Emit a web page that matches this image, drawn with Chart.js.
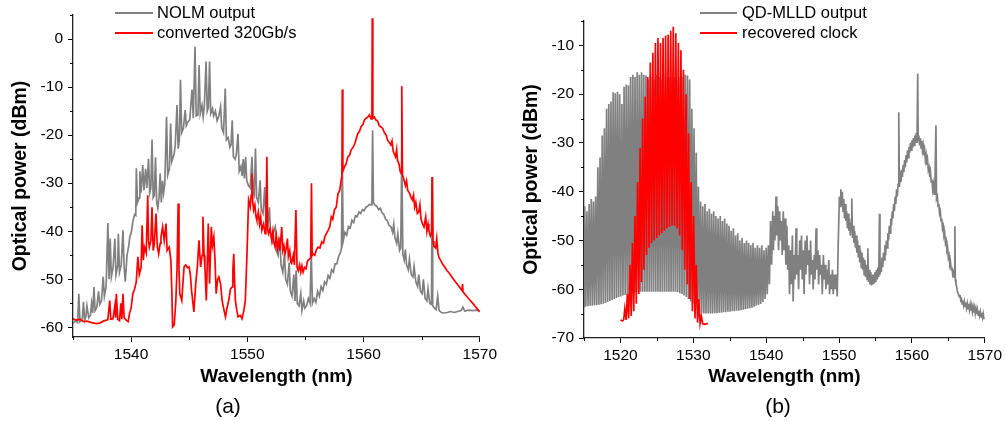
<!DOCTYPE html>
<html><head><meta charset="utf-8">
<script src="https://cdn.jsdelivr.net/npm/chart.js@4.4.1/dist/chart.umd.min.js"></script>
<style>
html,body{margin:0;padding:0;background:#fff;}
#wrap{position:relative;width:1005px;height:421px;overflow:hidden;background:#fff;}
.pane{position:absolute;top:0;width:500px;height:421px;}
#pa{left:0;} #pb{left:505px;}
.cap{position:absolute;font:21px "Liberation Sans",Arial,sans-serif;color:#000;transform:translate(-50%,-50%);white-space:nowrap;}
</style></head>
<body><div id="wrap">
<div class="pane" id="pa"><canvas id="ca" width="500" height="421"></canvas></div>
<div class="pane" id="pb"><canvas id="cb" width="500" height="421"></canvas></div>
<div class="cap" style="left:228px;top:406px;">(a)</div>
<div class="cap" style="left:778px;top:406px;">(b)</div>
</div>
<script>
// ---------- DATA (wavelength nm, optical power dBm) ----------
const panelALabels = ['NOLM output', 'converted 320Gb/s'];
const panelBLabels = ['QD-MLLD output', 'recovered clock'];

const nolmOutput = [
[1535.0,-59.2],[1535.2,-58.6],[1535.4,-59],[1535.5,-53],[1535.6,-58.8],[1535.8,-58.2],[1535.9,-54.7],[1536.0,-58.5],[1536.1,-57.8],[1536.2,-55.5],[1536.35,-58],[1536.5,-57.5],[1536.6,-55],[1536.7,-57],[1536.8,-51.6],[1536.9,-56.5],[1537.05,-55.8],[1537.2,-52.5],[1537.3,-55.2],[1537.45,-54.5],[1537.6,-49.5],[1537.7,-53.5],[1537.85,-51.5],[1538.0,-38.3],[1538.1,-50],[1538.2,-41.5],[1538.3,-49.5],[1538.45,-47.5],[1538.6,-41.5],[1538.7,-49],[1538.85,-47],[1538.9,-40.5],[1539.0,-48.5],[1539.15,-47],[1539.3,-39.8],[1539.4,-47.5],[1539.5,-50.5],[1539.65,-45],[1539.8,-43],[1539.9,-41],[1540.0,-40.5],[1540.15,-38],[1540.3,-36.5],[1540.4,-36.7],[1540.45,-26.9],[1540.55,-34],[1540.7,-33],[1540.75,-27.5],[1540.85,-32],[1541.0,-26.2],[1541.1,-31.5],[1541.25,-27],[1541.35,-31],[1541.5,-24.9],[1541.6,-32],[1541.7,-31],[1541.8,-20.9],[1541.9,-33],[1542.0,-32.5],[1542.1,-24.6],[1542.2,-34],[1542.3,-35.2],[1542.4,-33],[1542.5,-28],[1542.6,-34],[1542.7,-29.5],[1542.8,-32],[1542.9,-30],[1543.05,-16.2],[1543.15,-28.3],[1543.3,-27],[1543.4,-17.6],[1543.5,-25.5],[1543.7,-24],[1543.8,-22],[1543.95,-13.75],[1544.05,-22.8],[1544.15,-21],[1544.25,-8.5],[1544.35,-19.5],[1544.5,-18.6],[1544.65,-14.8],[1544.75,-18],[1544.9,-17.2],[1545.05,-16.8],[1545.24,-10.5],[1545.35,-16.5],[1545.5,-1.6],[1545.6,-16],[1545.75,-15.8],[1545.85,-5.4],[1545.95,-15.5],[1546.1,-13.8],[1546.2,-16.2],[1546.3,-14],[1546.45,-4.7],[1546.55,-15],[1546.65,-14.2],[1546.75,-4.7],[1546.85,-15.5],[1547.0,-14.5],[1547.1,-16],[1547.25,-15],[1547.4,-17],[1547.55,-16],[1547.7,-14.1],[1547.8,-18.5],[1547.95,-19.5],[1548.1,-10.3],[1548.2,-21],[1548.35,-20.5],[1548.5,-22.5],[1548.6,-22],[1548.7,-16.9],[1548.8,-24.5],[1548.95,-25],[1549.05,-24],[1549.2,-19.7],[1549.3,-27.5],[1549.45,-26.5],[1549.55,-28.5],[1549.65,-25],[1549.75,-29],[1549.85,-24.5],[1549.95,-29.5],[1550.1,-30.5],[1550.25,-31],[1550.4,-24.5],[1550.5,-31.8],[1550.6,-32.5],[1550.7,-22.8],[1550.8,-33],[1550.95,-34],[1551.1,-29.4],[1551.2,-35.5],[1551.35,-36.3],[1551.5,-30.8],[1551.6,-38],[1551.75,-39],[1551.9,-35],[1552.0,-40.5],[1552.15,-42],[1552.25,-40],[1552.4,-39.1],[1552.5,-44],[1552.65,-45],[1552.8,-41.2],[1552.9,-47],[1553.05,-48.5],[1553.2,-44.7],[1553.3,-50],[1553.45,-51],[1553.6,-46.5],[1553.7,-52.5],[1553.85,-53.5],[1554.0,-49],[1554.1,-54.5],[1554.2,-48.1],[1554.3,-55],[1554.45,-55.5],[1554.6,-53],[1554.7,-56.5],[1554.85,-54.5],[1554.95,-56],[1555.1,-55.5],[1555.25,-54],[1555.4,-55],[1555.5,-44],[1555.6,-55],[1555.75,-54],[1555.9,-54.8],[1556.05,-52.5],[1556.2,-53.5],[1556.35,-51.5],[1556.5,-52.3],[1556.65,-50.5],[1556.8,-51],[1556.95,-49.2],[1557.1,-49.8],[1557.25,-48],[1557.4,-48.5],[1557.55,-46.8],[1557.7,-46.8],[1557.85,-45.3],[1558.0,-44.5],[1558.1,-43.5],[1558.17,-25.2],[1558.25,-42],[1558.4,-40.2],[1558.55,-40.8],[1558.7,-39],[1558.85,-39.3],[1559.0,-37.7],[1559.15,-38.2],[1559.3,-36.8],[1559.45,-37],[1559.6,-36],[1559.75,-36.3],[1559.9,-35.5],[1560.05,-35.7],[1560.2,-35],[1560.35,-34.8],[1560.5,-34.4],[1560.65,-34.5],[1560.72,-33.8],[1560.78,-19],[1560.85,-34],[1561.0,-34.6],[1561.15,-34.8],[1561.3,-35.5],[1561.45,-35.2],[1561.6,-36.2],[1561.75,-36.5],[1561.9,-37.5],[1562.05,-37.8],[1562.2,-38.8],[1562.35,-39],[1562.5,-40.2],[1562.6,-38.5],[1562.7,-41.3],[1562.85,-42.5],[1562.95,-40.5],[1563.1,-44],[1563.2,-43.5],[1563.29,-23.5],[1563.38,-44.7],[1563.5,-46],[1563.6,-43.8],[1563.7,-47],[1563.85,-48],[1563.95,-45.8],[1564.1,-49],[1564.25,-49.5],[1564.35,-47.3],[1564.5,-50.5],[1564.65,-51.5],[1564.75,-49],[1564.9,-52.5],[1565.05,-53],[1565.15,-50],[1565.3,-54],[1565.45,-54.5],[1565.55,-52],[1565.7,-55],[1565.85,-55.2],[1565.9,-28.7],[1565.95,-55.5],[1566.1,-56],[1566.25,-56.3],[1566.38,-53.5],[1566.5,-56.5],[1566.7,-56.9],[1566.9,-57],[1567.2,-56.9],[1567.5,-56.7],[1567.8,-56.9],[1568.1,-56.7],[1568.4,-56.5],[1568.55,-55.8],[1568.7,-56.6],[1569.0,-56.4],[1569.4,-56.5],[1569.7,-56.4],[1570.0,-56.6]
];

const converted320 = [
[1535.0,-58.2],[1535.3,-58.5],[1535.6,-58.3],[1535.9,-58.8],[1536.2,-58.7],[1536.6,-59],[1537.0,-59.2],[1537.3,-59.1],[1537.6,-58.7],[1537.87,-58.5],[1538.0,-58.4],[1538.16,-54.4],[1538.25,-58.3],[1538.44,-58.2],[1538.6,-55.5],[1538.67,-58],[1538.73,-53],[1538.85,-58.3],[1539.0,-58.6],[1539.12,-55],[1539.2,-58.3],[1539.3,-53],[1539.4,-58],[1539.58,-58.5],[1539.75,-58.8],[1539.87,-57],[1540.0,-56],[1540.15,-53],[1540.3,-52],[1540.44,-50.6],[1540.58,-45.3],[1540.7,-49],[1540.86,-47.5],[1540.95,-38.75],[1541.05,-46],[1541.15,-43.3],[1541.3,-44.5],[1541.43,-32.5],[1541.5,-42],[1541.57,-43.3],[1541.7,-42],[1541.8,-35],[1541.9,-44],[1542.0,-42.5],[1542.14,-36.3],[1542.25,-43],[1542.37,-44.7],[1542.5,-42.5],[1542.57,-41.2],[1542.71,-39.1],[1542.85,-41.9],[1543.0,-38.4],[1543.1,-44],[1543.28,-43.3],[1543.42,-46],[1543.5,-52],[1543.57,-59.9],[1543.71,-59.5],[1543.85,-54.4],[1543.95,-48],[1544.05,-34.2],[1544.12,-48],[1544.19,-53],[1544.36,-54.4],[1544.48,-50],[1544.56,-47.4],[1544.7,-47],[1544.85,-47.6],[1544.99,-47.4],[1545.1,-49],[1545.2,-52.3],[1545.4,-56.8],[1545.56,-50.9],[1545.7,-47.4],[1545.84,-41.9],[1545.98,-47.4],[1546.1,-45],[1546.18,-37],[1546.28,-45],[1546.35,-47.4],[1546.47,-54.4],[1546.56,-46],[1546.64,-38.4],[1546.75,-50.9],[1546.9,-39.1],[1547.0,-43],[1547.12,-41.2],[1547.22,-46],[1547.32,-53],[1547.45,-50],[1547.55,-49.5],[1547.7,-51],[1547.83,-54.4],[1548.0,-56.5],[1548.12,-57.8],[1548.25,-56],[1548.4,-54.4],[1548.55,-52],[1548.69,-51.6],[1548.76,-48],[1548.83,-44.7],[1548.9,-50],[1548.97,-54.4],[1549.1,-56.5],[1549.2,-57.8],[1549.4,-57.5],[1549.54,-58.2],[1549.7,-56.5],[1549.83,-54.4],[1549.97,-44.7],[1550.11,-33.5],[1550.25,-34.9],[1550.33,-32.5],[1550.4,-28],[1550.47,-34],[1550.54,-35.6],[1550.65,-34.5],[1550.75,-37],[1550.82,-37.7],[1550.95,-36],[1551.05,-38.5],[1551.15,-37],[1551.25,-39.8],[1551.4,-38.5],[1551.53,-40.5],[1551.6,-39],[1551.68,-24.5],[1551.75,-39.5],[1551.82,-40.5],[1551.95,-39.5],[1552.1,-41.9],[1552.2,-40],[1552.3,-42.5],[1552.39,-43.3],[1552.5,-41],[1552.6,-43.5],[1552.7,-42],[1552.8,-44],[1552.96,-39.1],[1553.05,-44],[1553.15,-43],[1553.24,-44.7],[1553.35,-43.5],[1553.45,-41.5],[1553.53,-45.3],[1553.65,-44],[1553.75,-46.5],[1553.81,-46.7],[1553.95,-45],[1554.05,-47],[1554.18,-35.6],[1554.28,-47.5],[1554.38,-48.2],[1554.5,-47],[1554.6,-48.5],[1554.7,-47.2],[1554.8,-48.5],[1554.92,-47.5],[1555.05,-47.8],[1555.15,-46.5],[1555.23,-46],[1555.35,-45.8],[1555.45,-45.5],[1555.52,-30],[1555.58,-45],[1555.66,-44.7],[1555.8,-45],[1555.95,-43.8],[1556.09,-43.3],[1556.25,-43.5],[1556.4,-42.2],[1556.55,-42.5],[1556.66,-41.2],[1556.8,-40.5],[1556.95,-39.8],[1557.1,-39],[1557.23,-37],[1557.35,-37.5],[1557.5,-35.5],[1557.65,-35],[1557.8,-32.2],[1557.95,-31.5],[1558.1,-29],[1558.14,-28],[1558.17,-10.5],[1558.22,-27.5],[1558.36,-26.6],[1558.5,-26],[1558.65,-24.5],[1558.8,-24.2],[1558.93,-23.1],[1559.1,-22.5],[1559.25,-21.8],[1559.4,-20.5],[1559.5,-19.7],[1559.65,-19.2],[1559.8,-18.2],[1559.95,-17.8],[1560.07,-16.9],[1560.2,-16.5],[1560.35,-16.3],[1560.5,-15.8],[1560.65,-16.6],[1560.72,-16],[1560.75,4.3],[1560.8,-16.5],[1560.93,-16.2],[1561.05,-16.8],[1561.2,-17],[1561.35,-18],[1561.5,-18.3],[1561.65,-18.6],[1561.8,-19.5],[1561.95,-20],[1562.06,-21],[1562.2,-21.5],[1562.35,-22],[1562.45,-21.2],[1562.55,-23.3],[1562.63,-23.8],[1562.75,-24.5],[1562.85,-23],[1562.92,-25.2],[1563.05,-26],[1563.15,-27.5],[1563.25,-28],[1563.29,-9.8],[1563.35,-28.2],[1563.49,-29.4],[1563.6,-30.5],[1563.7,-29.5],[1563.8,-31.5],[1563.95,-32],[1564.06,-32.8],[1564.2,-33.5],[1564.3,-32.5],[1564.4,-35],[1564.5,-34],[1564.63,-36.3],[1564.75,-36],[1564.85,-34.5],[1564.95,-37.5],[1565.08,-38.5],[1565.2,-39.1],[1565.35,-37],[1565.45,-40],[1565.55,-38.5],[1565.62,-39.8],[1565.75,-41],[1565.85,-40.5],[1565.9,-28.7],[1565.98,-42],[1566.05,-43.1],[1566.2,-43.5],[1566.3,-41.5],[1566.4,-44.5],[1566.5,-45.5],[1566.62,-46],[1566.8,-46.8],[1567.0,-47.5],[1567.19,-48.2],[1567.4,-48.8],[1567.6,-49.5],[1567.8,-50.2],[1568.04,-50.9],[1568.25,-51.6],[1568.47,-52.3],[1568.52,-51],[1568.56,-52.6],[1568.8,-53.3],[1569.0,-53.9],[1569.18,-54.4],[1569.4,-55],[1569.6,-55.6],[1569.8,-56.2],[1570.0,-56.8]
];

const qdMlldOutput = [
[1515.0,-63.5],[1515.1,-43],[1515.25,-63.5],[1515.4,-44],[1515.55,-63.5],[1515.7,-42.5],[1515.85,-63.4],[1516.0,-41.5],[1516.15,-63.4],[1516.3,-42],[1516.45,-63.3],[1516.6,-41],[1516.75,-63.3],[1516.9,-35],[1517.05,-63.2],[1517.2,-33],[1517.35,-63.1],[1517.5,-28.5],[1517.65,-63],[1517.8,-27],[1517.95,-62.8],[1518.1,-23],[1518.25,-62.6],[1518.4,-22],[1518.55,-62.4],[1518.7,-21.5],[1518.85,-62.2],[1519.0,-19.6],[1519.15,-62],[1519.3,-19.8],[1519.45,-61.8],[1519.6,-19.5],[1519.75,-61.6],[1519.9,-20],[1520.05,-61.5],[1520.2,-22],[1520.35,-61.3],[1520.5,-18.5],[1520.65,-61.2],[1520.8,-18],[1520.95,-61],[1521.1,-18.2],[1521.25,-61],[1521.4,-16.5],[1521.55,-60.8],[1521.7,-16],[1521.85,-60.8],[1522.0,-16.5],[1522.15,-60.6],[1522.3,-15.5],[1522.45,-60.6],[1522.6,-16],[1522.75,-60.5],[1522.9,-15.5],[1523.05,-60.5],[1523.2,-16],[1523.35,-60.5],[1523.5,-16.2],[1523.65,-60.5],[1523.8,-17],[1523.95,-60.5],[1524.1,-16],[1524.25,-60.5],[1524.4,-16.5],[1524.55,-60.5],[1524.7,-17],[1524.85,-60.5],[1525.0,-16],[1525.15,-60.5],[1525.3,-16.5],[1525.45,-60.5],[1525.6,-17],[1525.75,-60.5],[1525.9,-16],[1526.05,-60.5],[1526.2,-16.5],[1526.35,-60.5],[1526.5,-17],[1526.65,-60.5],[1526.8,-16.5],[1526.95,-60.5],[1527.1,-17],[1527.25,-60.5],[1527.4,-16.5],[1527.55,-60.5],[1527.7,-17],[1527.85,-60.6],[1528.0,-16.5],[1528.15,-60.8],[1528.3,-16],[1528.45,-61],[1528.6,-16.5],[1528.75,-61.3],[1528.9,-16],[1529.05,-61.6],[1529.2,-16.2],[1529.35,-62],[1529.5,-17],[1529.65,-62.5],[1529.8,-23],[1529.95,-63],[1530.1,-27],[1530.25,-63.5],[1530.4,-32],[1530.55,-64],[1530.7,-39],[1530.85,-64.5],[1531.0,-42],[1531.15,-64.8],[1531.3,-43],[1531.45,-65],[1531.6,-42.5],[1531.75,-65],[1531.9,-44],[1532.05,-65],[1532.2,-43.5],[1532.35,-65],[1532.5,-44.5],[1532.65,-65],[1532.8,-44],[1532.95,-64.9],[1533.1,-45],[1533.25,-64.9],[1533.4,-45.5],[1533.55,-64.8],[1533.7,-45],[1533.85,-64.8],[1534.0,-46],[1534.15,-64.7],[1534.3,-45.5],[1534.45,-64.7],[1534.6,-46.5],[1534.75,-64.6],[1534.9,-47],[1535.05,-64.6],[1535.2,-48],[1535.35,-64.5],[1535.5,-47.5],[1535.65,-64.5],[1535.8,-49],[1535.95,-64.4],[1536.1,-48.5],[1536.25,-64.4],[1536.4,-50],[1536.55,-64.3],[1536.7,-49.5],[1536.85,-64.2],[1537.0,-50.5],[1537.15,-64.1],[1537.3,-50],[1537.45,-64],[1537.6,-50.5],[1537.75,-63.9],[1537.9,-51],[1538.05,-63.8],[1538.2,-50.5],[1538.35,-63.6],[1538.5,-51.5],[1538.65,-63.4],[1538.8,-51],[1538.95,-63.2],[1539.1,-51.5],[1539.25,-63],[1539.4,-51],[1539.55,-62.6],[1539.7,-52],[1539.85,-62],[1540.0,-51.5],[1540.15,-61],[1540.3,-51],[1540.45,-59],
[1540.6,-46],[1540.75,-55],[1540.9,-44],[1541.0,-52],[1541.1,-45],[1541.2,-50],[1541.35,-41],[1541.45,-49],[1541.6,-43],[1541.7,-52],[1541.85,-44],[1541.95,-50],[1542.1,-46],[1542.2,-53],[1542.35,-44],[1542.45,-52],[1542.6,-45.5],[1542.7,-55],[1542.85,-47],[1542.95,-56],[1543.1,-51],[1543.2,-61],[1543.35,-52],[1543.45,-59],[1543.6,-49],[1543.7,-62.5],[1543.85,-53],[1543.95,-58],[1544.1,-47.5],[1544.2,-57],[1544.35,-53],[1544.45,-60],[1544.6,-50],[1544.7,-56],[1544.85,-49],[1544.95,-58],[1545.1,-52],[1545.2,-61],[1545.35,-50],[1545.45,-57],[1545.6,-49],[1545.7,-55],[1545.85,-52],[1545.95,-59],[1546.1,-50],[1546.2,-57],[1546.35,-54],[1546.45,-60],[1546.6,-53],[1546.7,-58],[1546.85,-47.5],[1546.95,-56],[1547.1,-52],[1547.2,-59],[1547.35,-53],[1547.45,-57],[1547.6,-55],[1547.7,-61],[1547.85,-53],[1547.95,-58],[1548.1,-55],[1548.2,-60],[1548.35,-56],[1548.45,-59],[1548.6,-54],[1548.7,-61],[1548.85,-57],[1548.95,-60],[1549.1,-56],[1549.2,-61],[1549.35,-57],[1549.45,-60],[1549.6,-57],[1549.75,-61.5],[1549.9,-50],
[1550.05,-41],[1550.15,-43],[1550.25,-39.5],[1550.35,-43],[1550.45,-40],[1550.55,-44],[1550.65,-41.5],[1550.75,-45.5],[1550.85,-42.5],[1550.95,-46],[1551.05,-44],[1551.15,-47.5],[1551.25,-44.5],[1551.35,-48],[1551.45,-45.5],[1551.55,-49],[1551.65,-46.5],[1551.75,-41.4],[1551.85,-49.5],[1551.95,-47],[1552.05,-50.5],[1552.15,-48],[1552.25,-51.5],[1552.35,-49],[1552.45,-52.5],[1552.55,-50],[1552.65,-53.5],[1552.75,-51],[1552.85,-54.5],[1552.95,-52],[1553.05,-55.5],[1553.15,-52.5],[1553.25,-56],[1553.35,-53.5],[1553.45,-57],[1553.55,-54],[1553.65,-57.5],[1553.75,-55],[1553.85,-58],[1553.95,-51.6],[1554.05,-58.5],[1554.15,-56],[1554.25,-59],[1554.35,-56.5],[1554.45,-59.2],[1554.55,-57],[1554.65,-59],[1554.75,-57],[1554.85,-58.8],[1554.95,-56.5],[1555.05,-58.5],[1555.15,-56],[1555.25,-58],[1555.35,-55.5],[1555.45,-57.5],[1555.55,-44.5],[1555.62,-57],[1555.7,-54.5],[1555.8,-56.5],[1555.9,-53.5],[1556.0,-55.5],[1556.1,-52.5],[1556.2,-54],[1556.3,-51],[1556.4,-53],[1556.5,-50],[1556.6,-51.5],[1556.7,-48.5],[1556.8,-50],[1556.9,-47],[1557.0,-48.5],[1557.1,-45.5],[1557.2,-47],[1557.3,-44],[1557.4,-45.5],[1557.5,-42.5],[1557.6,-44],[1557.7,-41],[1557.8,-42.5],[1557.9,-39.5],[1558.0,-41],[1558.1,-38.5],[1558.2,-23.7],[1558.28,-39],[1558.4,-36.8],[1558.5,-38],[1558.6,-35.5],[1558.7,-37],[1558.8,-34.5],[1558.9,-36],[1559.0,-33.5],[1559.1,-35],[1559.2,-32.5],[1559.3,-34],[1559.4,-31.5],[1559.5,-33],[1559.6,-30.8],[1559.7,-32],[1559.8,-30],[1559.9,-31.5],[1560.0,-29.5],[1560.1,-31],[1560.2,-29],[1560.3,-30.5],[1560.4,-28.5],[1560.5,-30],[1560.6,-28],[1560.7,-30],[1560.8,-15.8],[1560.86,-29.5],[1560.95,-28.5],[1561.05,-30.5],[1561.15,-29],[1561.25,-31],[1561.35,-29.5],[1561.45,-31.5],[1561.55,-30.5],[1561.65,-32.5],[1561.75,-31.5],[1561.85,-33.5],[1561.95,-32.5],[1562.05,-34.5],[1562.15,-33.5],[1562.25,-35.5],[1562.35,-35],[1562.45,-37],[1562.55,-36],[1562.65,-38],[1562.75,-37.5],[1562.85,-39.5],[1562.95,-38.5],[1563.05,-40.5],[1563.15,-39.5],[1563.3,-26.4],[1563.38,-41.5],[1563.5,-41],[1563.6,-43],[1563.7,-42.5],[1563.8,-44.5],[1563.9,-44],[1564.0,-46],[1564.1,-45.5],[1564.2,-47.5],[1564.3,-47],[1564.4,-49],[1564.5,-48.5],[1564.6,-50.5],[1564.7,-50],[1564.8,-52],[1564.9,-51.5],[1565.0,-53.5],[1565.1,-53],[1565.2,-55],[1565.3,-54.5],[1565.4,-56],[1565.5,-55.5],[1565.6,-57],[1565.7,-56.5],[1565.8,-57.5],[1565.9,-47.1],[1565.96,-58],[1566.05,-59],[1566.15,-59.5],[1566.25,-60.5],[1566.35,-60.8],[1566.5,-61.5],[1566.6,-61.2],[1566.7,-62.3],[1566.8,-62],[1566.9,-63],[1567.0,-62.3],[1567.1,-63.3],[1567.2,-62.5],[1567.3,-63.5],[1567.4,-62.7],[1567.5,-63.8],[1567.6,-62.9],[1567.7,-64],[1567.8,-63],[1567.9,-64.2],[1568.0,-63.2],[1568.1,-64.4],[1568.2,-63.4],[1568.3,-64.6],[1568.4,-63.6],[1568.5,-64.8],[1568.6,-63.8],[1568.7,-65],[1568.8,-64],[1568.9,-65.1],[1569.0,-64.2],[1569.1,-65.3],[1569.2,-64.4],[1569.3,-65.4],[1569.4,-64.6],[1569.5,-65.6],[1569.6,-64.8],[1569.7,-65.8],[1569.8,-65],[1569.9,-66],[1570.0,-65.8]
];

const recoveredClock = [
[1520.0,-66.3],[1520.3,-66.5],[1520.45,-66.2],[1520.6,-64],[1520.78,-66.3],[1520.95,-61],[1521.13,-66],[1521.3,-55],[1521.48,-65.5],[1521.65,-50.5],[1521.83,-64.5],[1522.0,-45],[1522.18,-63],[1522.35,-38],[1522.53,-61],[1522.7,-31],[1522.88,-58.5],[1523.05,-25],[1523.23,-56],[1523.4,-20.5],[1523.58,-53],[1523.75,-16.5],[1523.93,-51.5],[1524.1,-13.5],[1524.28,-50.5],[1524.45,-11.5],[1524.63,-50],[1524.8,-9.5],[1524.98,-49.5],[1525.15,-8.5],[1525.33,-49],[1525.5,-9.5],[1525.68,-48.5],[1525.85,-8.5],[1526.03,-48],[1526.2,-8],[1526.38,-47.5],[1526.55,-7.8],[1526.73,-47.2],[1526.9,-7],[1527.08,-47],[1527.25,-6.2],[1527.43,-47],[1527.6,-7.5],[1527.78,-47.5],[1527.95,-9.5],[1528.13,-49],[1528.3,-11],[1528.48,-52],[1528.65,-15],[1528.83,-56],[1529.0,-20],[1529.18,-59],[1529.35,-28],[1529.53,-62],[1529.7,-38],[1529.88,-64.5],[1530.05,-45],[1530.23,-66],[1530.4,-55],[1530.58,-66.8],[1530.75,-62],[1530.93,-67],[1531.1,-65.5],[1531.3,-67.1],[1531.6,-67.2],[1532.0,-67]
];

// axis ranges / ticks
const panelAX = {min:1535, max:1570, minor:[1535,1545,1555,1565]};
const panelAY = {min:-62, max:5, minor:[5,-5,-15,-25,-35,-45,-55]};
const panelBX = {min:1515, max:1570, minor:[1515,1525,1535,1545,1555,1565]};
const panelBY = {min:-70, max:-5, minor:[-5,-15,-25,-35,-45,-55,-65]};

// ---------- RENDER ----------
const FONT = '"Liberation Sans", Arial, sans-serif';
Chart.defaults.font.family = FONT;

const extras = {
  id: 'extras',
  afterDraw(chart, args, o) {
    const ctx = chart.ctx, xs = chart.scales.x, ys = chart.scales.y;
    ctx.save();
    ctx.strokeStyle = '#000'; ctx.lineWidth = 1;
    o.xMinor.forEach(v => { const p = Math.round(xs.getPixelForValue(v)) + 0.5;
      ctx.beginPath(); ctx.moveTo(p, ys.bottom); ctx.lineTo(p, ys.bottom + 3); ctx.stroke(); });
    o.yMinor.forEach(v => { const p = Math.round(ys.getPixelForValue(v)) + 0.5;
      ctx.beginPath(); ctx.moveTo(xs.left, p); ctx.lineTo(xs.left - 3, p); ctx.stroke(); });
    // legend
    ctx.font = '16.5px ' + FONT; ctx.textBaseline = 'middle'; ctx.fillStyle = '#000';
    chart.data.datasets.forEach((ds, i) => {
      const y = o.legendRows[i];
      ctx.strokeStyle = ds.borderColor; ctx.lineWidth = 1.8;
      ctx.beginPath(); ctx.moveTo(o.legendX1, y); ctx.lineTo(o.legendX2, y); ctx.stroke();
      ctx.fillText(ds.label, o.legendText, y);
    });
    ctx.restore();
  }
};

function build(canvasId, labels, grayData, redData, X, Y, lay) {
  return new Chart(document.getElementById(canvasId), {
    type: 'line',
    data: { datasets: [
      { label: labels[0], data: grayData, borderColor: '#808080', borderWidth: lay.lw, pointRadius: 0, tension: 0, order: 2 },
      { label: labels[1], data: redData, borderColor: '#ff0000', borderWidth: lay.lw, pointRadius: 0, tension: 0, order: 1 }
    ]},
    options: {
      responsive: false, animation: false, events: [],
      layout: { padding: lay.padding },
      plugins: { legend: {display:false}, tooltip: {enabled:false},
        extras: { xMinor: X.minor, yMinor: Y.minor, legendRows: [13, 33],
          legendX1: lay.legX1, legendX2: lay.legX2, legendText: lay.legText } },
      scales: {
        x: { type: 'linear', min: X.min, max: X.max,
          afterFit(s) { s.height = lay.xH; },
          ticks: { stepSize: 10, includeBounds: false, autoSkip: false, maxRotation: 0, color: '#000',
            font: { size: 15.5 }, padding: 3, callback: v => String(v) },
          grid: { drawOnChartArea: false, drawTicks: true, tickLength: 5, color: '#000', lineWidth: 1 },
          border: { display: true, color: '#222', width: 1.3 },
          title: { display: true, text: 'Wavelength (nm)', color: '#000',
            font: { size: 19, weight: 'bold' }, padding: { top: 0, bottom: 2.6 } } },
        y: { type: 'linear', min: Y.min, max: Y.max,
          afterFit(s) { s.width = lay.yW; },
          ticks: { stepSize: 10, includeBounds: false, autoSkip: false, color: '#000',
            font: { size: 15.5 }, padding: 5, callback: v => String(v) },
          grid: { drawOnChartArea: false, drawTicks: true, tickLength: 5, color: '#000', lineWidth: 1 },
          border: { display: true, color: '#222', width: 1.3 },
          title: { display: true, text: 'Optical power (dBm)', color: '#000',
            font: { size: 19.5, weight: 'bold' }, padding: { top: lay.yTitlePad, bottom: 0 } } }
      }
    },
    plugins: [extras]
  });
}

build('ca', panelALabels, nolmOutput, converted320, panelAX, panelAY,
  { padding: {left:0, top:15, right:17, bottom:30}, xH: 54, yW: 73, yTitlePad: 8.6, lw: 1.7,
    legX1: 115, legX2: 153, legText: 157 });
build('cb', panelBLabels, qdMlldOutput, recoveredClock, panelBX, panelBY,
  { padding: {left:0, top:21, right:19, bottom:30}, xH: 53, yW: 79, yTitlePad: 14.6, lw: 1.7,
    legX1: 195, legX2: 232, legText: 237 });
</script>
</body></html>
